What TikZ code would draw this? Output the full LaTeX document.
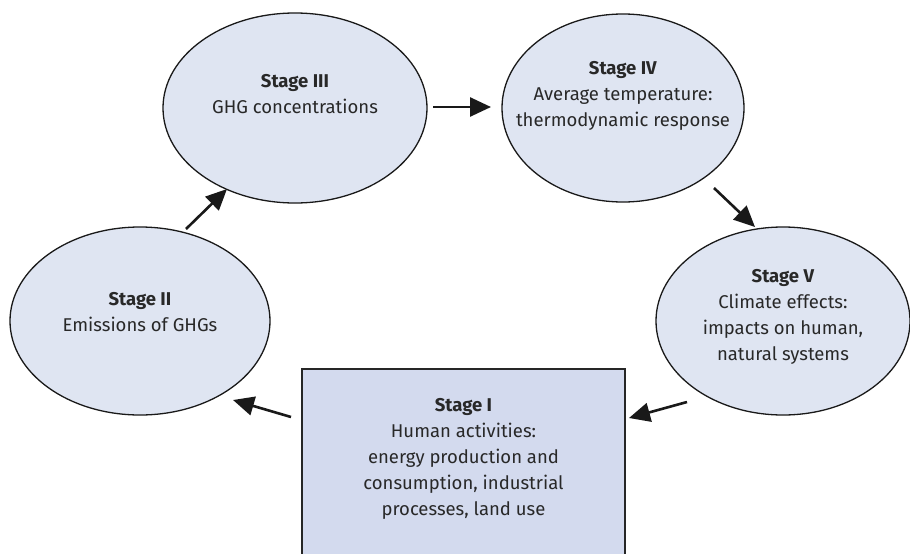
\documentclass[tikz,border=0pt]{standalone}
\usepackage{fontspec}
\setmainfont{Fira Sans}
\usetikzlibrary{shapes.geometric,arrows.meta}
\definecolor{ellfill}{RGB}{223,229,242}
\definecolor{boxfill}{RGB}{211,218,238}
\definecolor{txt}{RGB}{40,40,40}
\tikzset{
  stageell/.style={ellipse,draw=black!90,line width=1.3pt,fill=ellfill,inner sep=0pt},
  stagebox/.style={rectangle,draw=black!85,line width=1.3pt,fill=boxfill,inner sep=0pt},
  stagetxt/.style={align=center,text=txt,font=\fontsize{18.5}{26}\selectfont,inner sep=0pt},
  arr/.style={-{Triangle[length=21pt,width=19pt]},line width=2.6pt,black!90}
}
\begin{document}
\begin{tikzpicture}[x=1pt,y=-1pt]
\useasboundingbox (0,0) rectangle (910,554);
% shapes
\node[stageell,minimum width=264pt,minimum height=190pt] (III) at (295,108) {};
\node[stageell,minimum width=242pt,minimum height=188pt] (IV) at (623,108) {};
\node[stageell,minimum width=260pt,minimum height=188pt] (II) at (140,321) {};
\node[stageell,minimum width=254pt,minimum height=188pt] (V) at (783,321) {};
\node[stagebox,minimum width=323pt,minimum height=192pt] (I) at (463.5,465) {};
% texts
\node[stagetxt] (tIII) at (295,94) {\textbf{Stage III}\\GHG concentrations};
\node[stagetxt] (tIV) at (623,96) {\textbf{Stage IV}\\Average temperature:\\thermodynamic response};
\node[stagetxt] (tII) at (140,312) {\textbf{Stage II}\\Emissions of GHGs};
\node[stagetxt] (tV) at (783,317) {\textbf{Stage V}\\Climate effects:\\impacts on human,\\natural systems};
\node[stagetxt] (tI) at (463.5,459) {\textbf{Stage I}\\Human activities:\\energy production and\\consumption, industrial\\processes, land use};
% arrow ends
\coordinate (a1s) at (186,229); \coordinate (a1e) at (227,189);
\coordinate (a2s) at (433,107); \coordinate (a2e) at (491,107);
\coordinate (a3s) at (714,188); \coordinate (a3e) at (755,227);
\coordinate (a4s) at (687,402); \coordinate (a4e) at (629,418);
\coordinate (a5s) at (291,417); \coordinate (a5e) at (233,400);
\draw[arr] (a1s) -- (a1e);
\draw[arr] (a2s) -- (a2e);
\draw[arr] (a3s) -- (a3e);
\draw[arr] (a4s) -- (a4e);
\draw[arr] (a5s) -- (a5e);
\end{tikzpicture}
\end{document}
